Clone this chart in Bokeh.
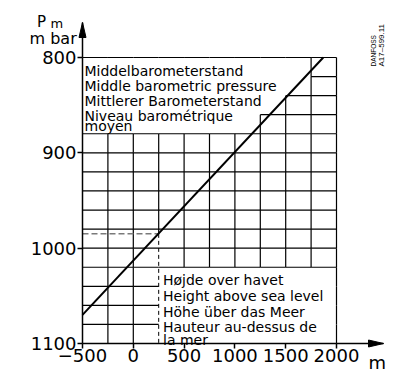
import math
from bokeh.plotting import figure
from bokeh.models import Range1d, FixedTicker
from bokeh.core.properties import value
from bokeh.embed import file_html
from bokeh.resources import INLINE

# ---------------- data ----------------
line_height_m = [-500, 1870]          # height above sea level (m)
line_pressure_mbar = [1070, 800]      # mean barometric pressure (mbar)
example_height_m = 250
example_pressure_mbar = 985

x_ticks = [-500, 0, 500, 1000, 1500, 2000]
y_ticks = [800, 900, 1000, 1100]
x_tick_labels = {-500: "\u2212500"}
grid_x = [-500, -250, 0, 250, 500, 750, 1000, 1250, 1500, 1750, 2000]
grid_y = [800, 820, 840, 860, 880, 900, 920, 940, 960, 980, 1000,
          1020, 1040, 1060, 1080, 1100]

top_box_text = ["Middelbarometerstand", "Middle barometric pressure",
                "Mittlerer Barometerstand", "Niveau barométrique", "moyen"]
bottom_box_text = ["Højde over havet", "Height above sea level",
                   "Höhe über das Meer", "Hauteur au-dessus de", "la mer"]
# top text box: grid rows (by upper edge) hidden up to this height
top_box_extent = {800: 1750, 820: 1750, 840: 1500, 860: 1250}
# bottom text box: heights >= 250, pressures >= 1020
bottom_box_x0, bottom_box_y0 = 250, 1020

# ---------------- layout (canvas pixels) ----------------
W, H = 394, 372
XPX0, XS = 82, 254 / 2500.0     # pixel column of -500 m, px per m
YPX0, YS = 57, 286 / 300.0      # pixel row of 800 mbar, px per mbar

def dx(px):
    return -500 + (px - XPX0) / XS

def dy(py):
    return 800 + (py - YPX0) / YS

x_arrow_tip = dx(383)
y_arrow_tip = dy(22)

p = figure(width=W, height=H, output_backend="svg", toolbar_location=None,
           x_range=Range1d(dx(0), dx(W)), y_range=Range1d(dy(H), dy(0)),
           min_border=0)
p.outline_line_color = None
p.xgrid.visible = False
p.ygrid.visible = False
p.background_fill_color = "white"

# axes, drawn at fixed data positions inside the canvas
for ax in (p.xaxis[0], p.yaxis[0]):
    ax.axis_line_width = 1.5
    ax.axis_line_color = "black"
    ax.major_tick_line_color = "black"
    ax.major_tick_line_width = 1.5
    ax.major_tick_in = 0
    ax.major_tick_out = 5
    ax.minor_tick_line_color = None
    ax.major_label_text_color = "black"
    ax.major_label_text_font = "DejaVu Sans"
    ax.major_label_text_font_size = "18px"
p.xaxis.ticker = FixedTicker(ticks=x_ticks)
p.yaxis.ticker = FixedTicker(ticks=y_ticks)
p.xaxis.major_label_overrides = x_tick_labels
p.xaxis.fixed_location = grid_y[-1]
p.yaxis.fixed_location = grid_x[0]
p.xaxis.bounds = (grid_x[0], grid_x[-1])
p.yaxis.bounds = (grid_y[0], grid_y[-1])
p.xaxis.major_label_standoff = 0
p.yaxis.major_label_standoff = 1

# ---------------- grid (cells hidden by text boxes) ----------------
def hidden(ci, ri):
    if ci < 0 or ri < 0 or ci >= len(grid_x) - 1 or ri >= len(grid_y) - 1:
        return False
    x0, x1 = grid_x[ci], grid_x[ci + 1]
    y0 = grid_y[ri]
    if y0 in top_box_extent and x1 <= top_box_extent[y0]:
        return True
    if y0 >= bottom_box_y0 and x0 >= bottom_box_x0:
        return True
    return False

sx0, sy0, sx1, sy1 = [], [], [], []
for j, yv in enumerate(grid_y[:-1]):
    for i in range(len(grid_x) - 1):
        if not (hidden(i, j - 1) and hidden(i, j)):
            sx0.append(grid_x[i]); sx1.append(grid_x[i + 1])
            sy0.append(yv); sy1.append(yv)
for i, xv in enumerate(grid_x[1:], start=1):
    for j in range(len(grid_y) - 1):
        if hidden(i - 1, j) and hidden(i, j):
            continue
        ya, yb = grid_y[j], grid_y[j + 1]
        if xv == example_height_m:
            if ya >= example_pressure_mbar:
                continue
            yb = min(yb, example_pressure_mbar)
        sx0.append(xv); sx1.append(xv); sy0.append(ya); sy1.append(yb)
p.segment(x0=sx0, y0=sy0, x1=sx1, y1=sy1, line_color="black", line_width=1.2)

# axis line extensions with arrows (drawn as glyphs)
p.segment(x0=[grid_x[-1], grid_x[0]], y0=[grid_y[-1], grid_y[0]],
          x1=[x_arrow_tip, grid_x[0]], y1=[grid_y[-1], y_arrow_tip],
          line_color="black", line_width=1.5)
AL, HW = 15, 3.5
p.patches(xs=[[x_arrow_tip, x_arrow_tip - AL / XS, x_arrow_tip - AL / XS],
              [grid_x[0], grid_x[0] - HW / XS, grid_x[0] + HW / XS]],
          ys=[[grid_y[-1], grid_y[-1] - HW / YS, grid_y[-1] + HW / YS],
              [y_arrow_tip, y_arrow_tip + AL / YS, y_arrow_tip + AL / YS]],
          fill_color="black", line_color="black", line_width=1)

# example reading (dashed)
p.line(x=[grid_x[0], example_height_m], y=[example_pressure_mbar] * 2,
       line_color="#7a7a7a", line_width=1.5, line_dash="6 3")
p.line(x=[example_height_m] * 2, y=[example_pressure_mbar, grid_y[-1]],
       line_color="black", line_width=1, line_dash="4 3")

# main relation
p.line(x=line_height_m, y=line_pressure_mbar, line_color="black", line_width=2)

# ---------------- texts ----------------
def txt(texts, px, pys, size, font="DejaVu Sans", angle=0.0):
    p.text(x=[dx(px)] * len(texts), y=[dy(v) for v in pys], text=texts,
           angle=angle, text_font=value(font), text_font_size=size,
           text_baseline="alphabetic", text_align="left", text_color="black")

txt(top_box_text, 84, [70, 85, 100, 115, 125.5], "14px")
txt(bottom_box_text, 162.5, [279, 295, 311, 326, 339], "14px")

# drawing id
txt(["DANFOSS"], 373, [66], "6.5px", font="Liberation Sans", angle=math.pi / 2)
txt(["A17\u2013599.11"], 381, [66], "8px", font="Liberation Sans", angle=math.pi / 2)

# axis titles / units
txt(["P"], 36.5, [21], "15px")
txt(["m"], 50, [22.5], "13px")
txt(["m bar"], 29, [38], "16px")
txt(["m"], 368, [362], "18px")

open("out.html", "w").write(file_html(p, INLINE))
